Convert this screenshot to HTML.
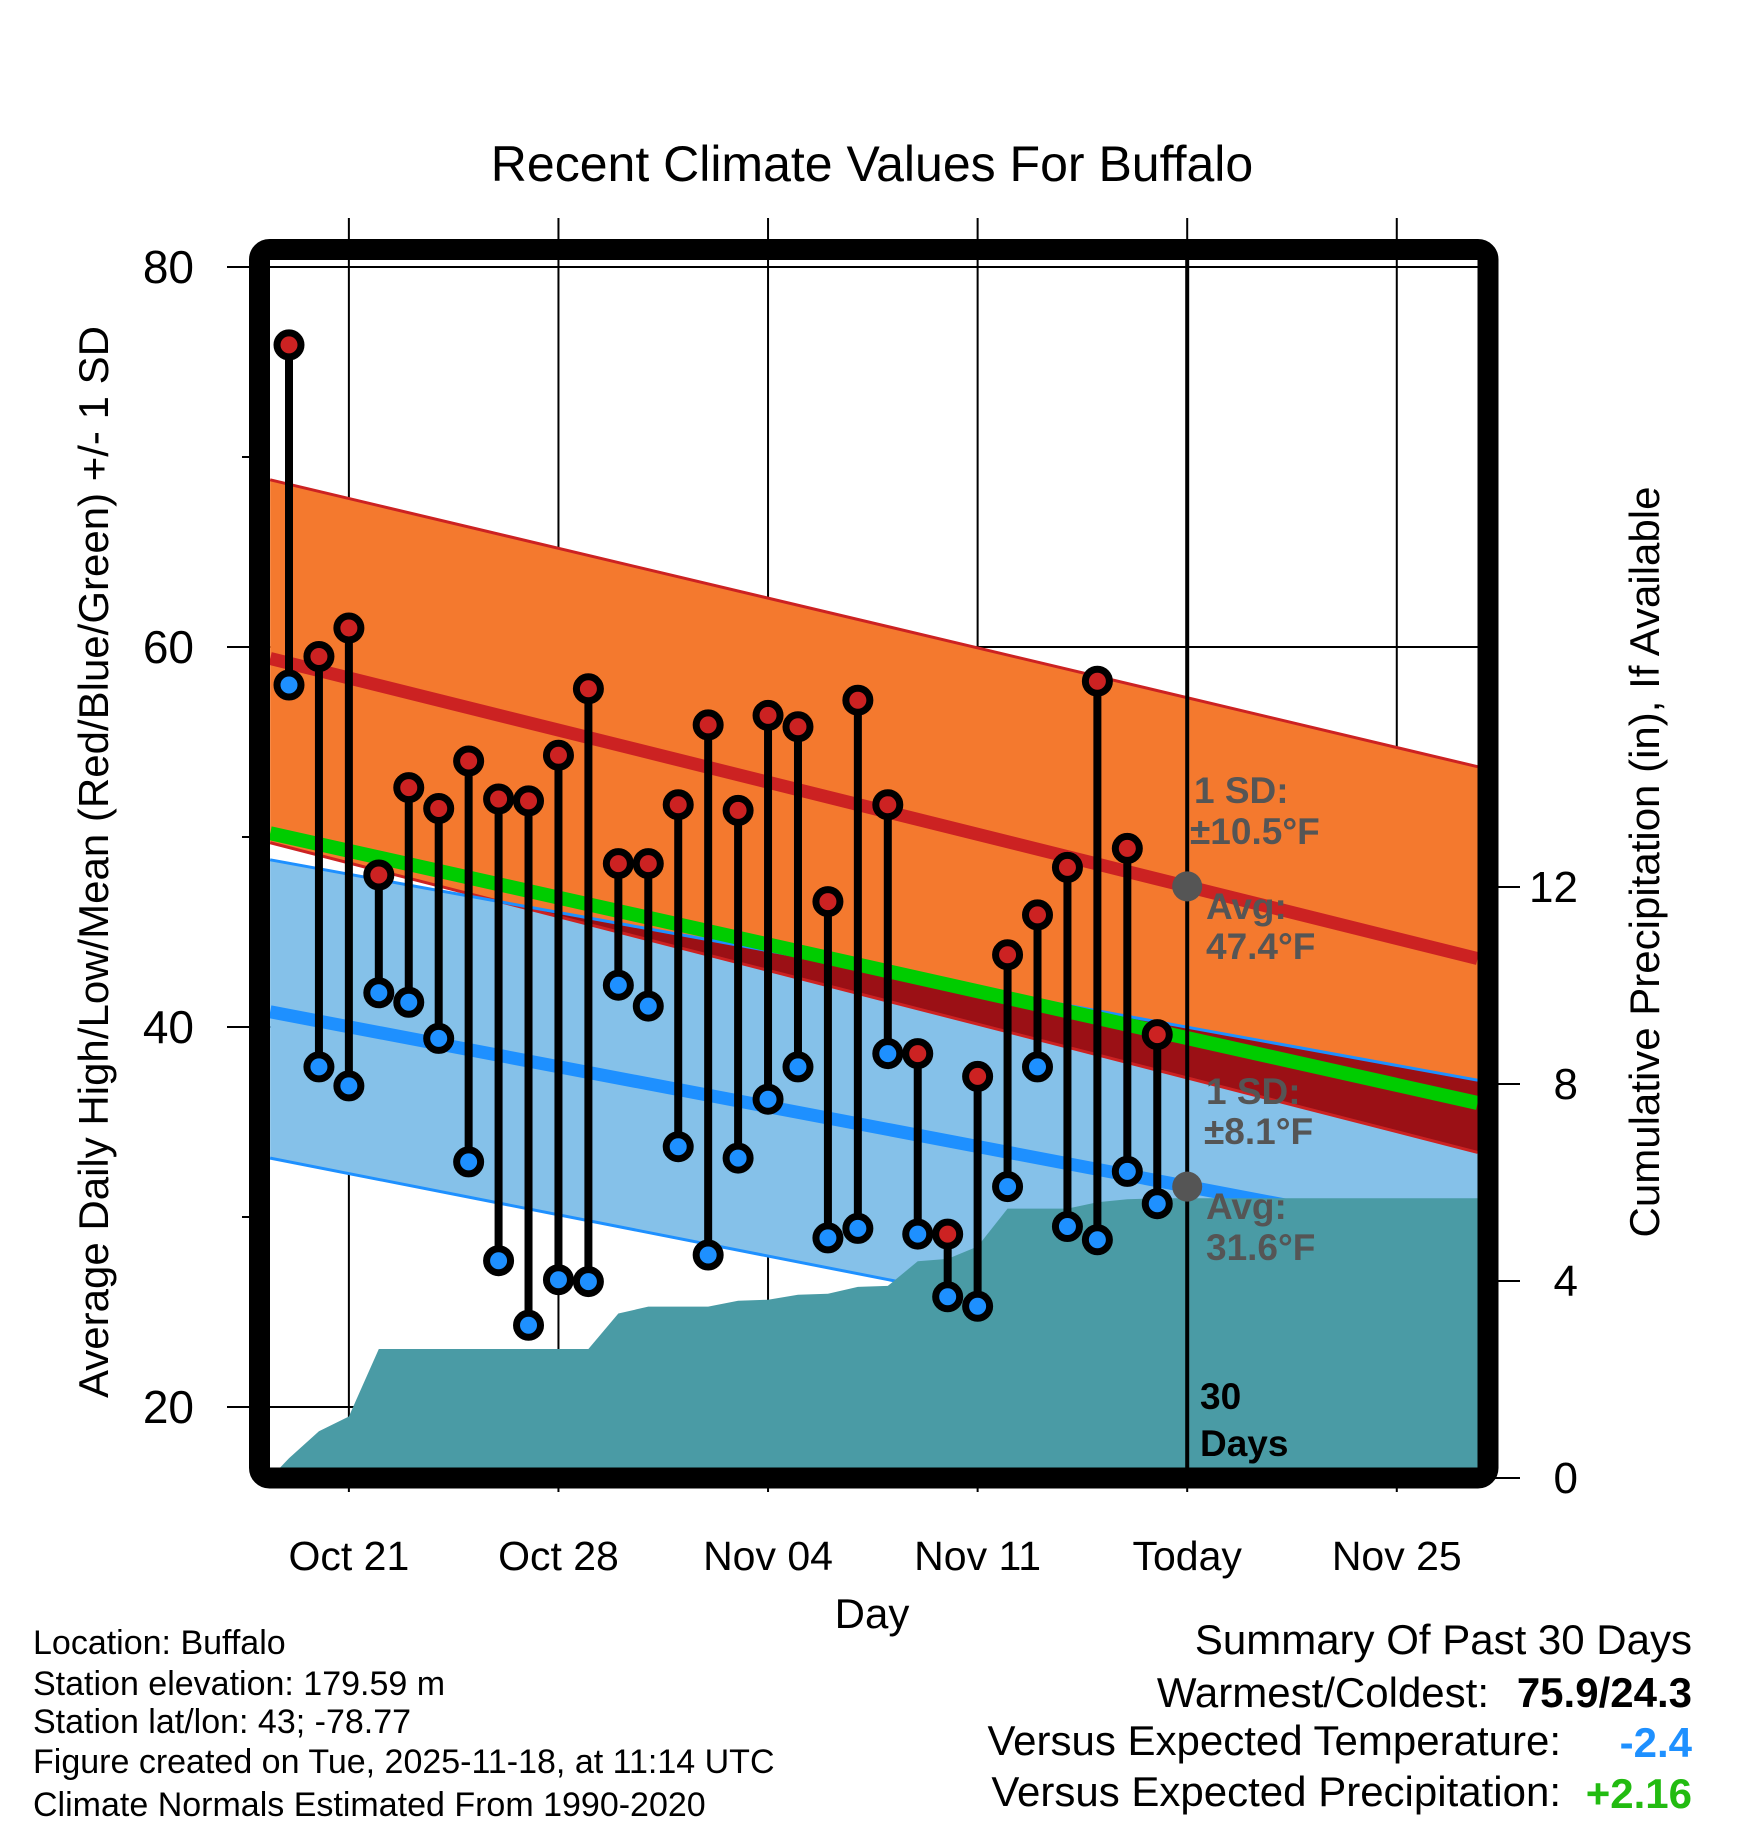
<!DOCTYPE html>
<html><head><meta charset="utf-8"><style>
html,body{margin:0;padding:0;background:#fff;}
svg{display:block;font-family:"Liberation Sans",Arial,sans-serif;}
</style></head><body>
<svg id="chart" width="1748" height="1828" viewBox="0 0 1748 1828" xmlns="http://www.w3.org/2000/svg">
<defs><clipPath id="plotclip"><rect x="270" y="260" width="1208" height="1208"/></clipPath></defs>
<text x="872" y="181" font-size="50" text-anchor="middle">Recent Climate Values For Buffalo</text>
<g id="grid"></g>
<g id="plot" clip-path="url(#plotclip)"></g>
<g id="over"></g>
<rect x="259.5" y="249.5" width="1228.5" height="1228.5" rx="10" fill="none" stroke="#000" stroke-width="21"/>
<g id="axes"></g>
<text transform="translate(108,862) rotate(-90)" font-size="42" text-anchor="middle">Average Daily High/Low/Mean (Red/Blue/Green) +/- 1 SD</text>
<text transform="translate(1659,862) rotate(-90)" font-size="42" text-anchor="middle">Cumulative Precipitation (in), If Available</text>
<text x="872" y="1628" font-size="42" text-anchor="middle">Day</text>
<g font-size="34">
<text x="33" y="1654">Location: Buffalo</text>
<text x="33" y="1695">Station elevation: 179.59 m</text>
<text x="33" y="1733">Station lat/lon: 43; -78.77</text>
<text x="33" y="1773">Figure created on Tue, 2025-11-18, at 11:14 UTC</text>
<text x="33" y="1816">Climate Normals Estimated From 1990-2020</text>
</g>
<g font-size="42">
<text x="1692" y="1654" text-anchor="end">Summary Of Past 30 Days</text>
<text x="1489" y="1707" text-anchor="end">Warmest/Coldest:</text>
<text x="1692" y="1707" text-anchor="end" font-weight="bold">75.9/24.3</text>
<text x="1561" y="1755" text-anchor="end">Versus Expected Temperature:</text>
<text x="1692" y="1757" text-anchor="end" font-weight="bold" fill="#1e90ff">-2.4</text>
<text x="1561" y="1806" text-anchor="end">Versus Expected Precipitation:</text>
<text x="1692" y="1808" text-anchor="end" font-weight="bold" fill="#22bb11">+2.16</text>
</g>
</svg>
<script>
const highs=[75.9,59.5,61.0,48.0,52.6,51.5,54.0,52.0,51.9,54.3,57.8,48.6,48.6,51.7,55.9,51.4,56.4,55.8,46.6,57.2,51.7,38.6,29.1,37.4,43.8,45.9,48.4,58.2,49.4,39.6];
const lows=[58.0,37.9,36.9,41.8,41.3,39.4,32.9,27.7,24.3,26.7,26.6,42.2,41.1,33.7,28.0,33.1,36.2,37.9,28.9,29.4,38.6,29.1,25.8,25.3,31.6,37.9,29.5,28.8,32.4,30.7];
const precip=[0.4,0.95,1.25,2.62,2.62,2.62,2.62,2.62,2.62,2.62,2.62,3.34,3.48,3.48,3.48,3.6,3.62,3.72,3.74,3.88,3.9,4.4,4.45,4.7,5.47,5.47,5.47,5.6,5.66,5.68];
const normalDays=[-0.63,39.7];
const highUpper=[68.8,53.7];
const highMean=[59.4,43.6];
const highLower=[49.7,33.4];
const avgMean=[50.2,36.0];
const lowUpper=[48.8,37.2];
const lowMean=[40.8,28.7];
const lowLower=[33.1,20.6];
const xTickDays=[2,9,16,23,30,37];
const xTickLabels=["Oct 21","Oct 28","Nov 04","Nov 11","Today","Nov 25"];
const yTicks=[80,60,40,20];
const yMinor=[70,50,30];
const pTicks=[0,4,8,12];
const todayDay=30;
const todayHighAvg=47.4, todayLowAvg=31.6;

const NS="http://www.w3.org/2000/svg";
const X=d=>289+d*29.94;
const Y=t=>267+(80-t)*19;
const P=p=>1478-p*49.25;
function mk(parent,tag,attrs){const e=document.createElementNS(NS,tag);for(const k in attrs)e.setAttribute(k,attrs[k]);parent.appendChild(e);return e;}
const grid=document.getElementById('grid'),plot=document.getElementById('plot'),over=document.getElementById('over'),axes=document.getElementById('axes');

xTickDays.forEach((d,i)=>{
  const l=mk(grid,'line',{x1:X(d),x2:X(d),y1:218,y2:1492,stroke:'#000','stroke-width':2});
  
  
  const t=mk(axes,'text',{x:X(d),y:1570,'font-size':41,'text-anchor':'middle'});
  t.textContent=xTickLabels[i];
  
  
});
yTicks.forEach(v=>{
  const l=mk(grid,'line',{x1:227,x2:1478,y1:Y(v),y2:Y(v),stroke:'#000','stroke-width':2});
  
  
  const t=mk(axes,'text',{x:194,y:Y(v)+16,'font-size':46,'text-anchor':'end'});
  t.textContent=v;
  
  
});
yMinor.forEach(v=>{
  const l=mk(grid,'line',{x1:242,x2:252,y1:Y(v),y2:Y(v),stroke:'#000','stroke-width':2});
  
  
});
pTicks.forEach(v=>{
  const l=mk(grid,'line',{x1:1490,x2:1520,y1:P(v),y2:P(v),stroke:'#000','stroke-width':2});
  
  
  const t=mk(axes,'text',{x:1578,y:P(v)+15,'font-size':44,'text-anchor':'end'});
  t.textContent=v;
  
  
});

function band(up,lo){const a=normalDays;return `${X(a[0])},${Y(up[0])} ${X(a[1])},${Y(up[1])} ${X(a[1])},${Y(lo[1])} ${X(a[0])},${Y(lo[0])}`;}
function line(v){return {x1:X(normalDays[0]),y1:Y(v[0]),x2:X(normalDays[1]),y2:Y(v[1])};}

let e=mk(plot,'polygon',{points:band(lowUpper,lowLower),fill:'#85c1e9'});


e=mk(plot,'polygon',{points:band(highUpper,highLower),fill:'#f4792e'});


{const d0=lowUpper[0]-highLower[0],d1=lowUpper[1]-highLower[1];
 const f=d0>=0?0:(-d0)/(d1-d0);
 const dc=normalDays[0]+f*(normalDays[1]-normalDays[0]);
 const uc=lowUpper[0]+f*(lowUpper[1]-lowUpper[0]);
 const pts=`${X(dc)},${Y(uc)} ${X(normalDays[1])},${Y(lowUpper[1])} ${X(normalDays[1])},${Y(highLower[1])}`;
 e=mk(plot,'polygon',{points:pts,fill:'#9b1015'});
 
 }
e=mk(plot,'line',Object.assign(line(highUpper),{stroke:'#cc2222','stroke-width':3}));


e=mk(plot,'line',Object.assign(line(highLower),{stroke:'#cc2222','stroke-width':3}));


e=mk(plot,'line',Object.assign(line(lowUpper),{stroke:'#1e90ff','stroke-width':3}));


e=mk(plot,'line',Object.assign(line(lowLower),{stroke:'#1e90ff','stroke-width':3}));


e=mk(plot,'line',Object.assign(line(highMean),{stroke:'#cc2222','stroke-width':13}));


e=mk(plot,'line',Object.assign(line(lowMean),{stroke:'#1e90ff','stroke-width':13}));


e=mk(plot,'line',Object.assign(line(avgMean),{stroke:'#00cc00','stroke-width':14}));



{let pts=`${X(normalDays[0])},${P(0)} `;
 precip.forEach((p,i)=>{pts+=`${X(i)},${P(p)} `;});
 pts+=`${X(normalDays[1])},${P(precip[precip.length-1])} ${X(normalDays[1])},${P(0)}`;
 e=mk(plot,'polygon',{points:pts,fill:'#4a9ba5'});
 
 }

e=mk(over,'line',{x1:X(todayDay),x2:X(todayDay),y1:255,y2:1470,stroke:'#000','stroke-width':4});



highs.forEach((h,i)=>{
  const s=mk(over,'line',{x1:X(i),x2:X(i),y1:Y(h),y2:Y(lows[i]),stroke:'#000','stroke-width':8});
  
  
  [[h,'#cc2222','high-marker'],[lows[i],'#1e90ff','low-marker']].forEach(([v,c,n])=>{
    const m=mk(over,'circle',{cx:X(i),cy:Y(v),r:12,fill:c,stroke:'#000','stroke-width':7});
    
    
  });
});

[todayHighAvg,todayLowAvg].forEach(v=>{
  const c=mk(over,'circle',{cx:X(todayDay),cy:Y(v),r:15,fill:'#555'});
  
  
});

function lbl(x,y,txt,fill,name){const t=mk(over,'text',{x:x,y:y,'font-size':37,'font-weight':'bold',fill:fill});t.textContent=txt;}
lbl(1194,803,'1 SD:','#555','high-sd-label');
lbl(1190,844,'±10.5°F','#555','high-sd-value');
lbl(1206,919,'Avg:','#555','high-avg-label');
lbl(1206,959,'47.4°F','#555','high-avg-value');
lbl(1206,1104,'1 SD:','#555','low-sd-label');
lbl(1204,1144,'±8.1°F','#555','low-sd-value');
lbl(1206,1219,'Avg:','#555','low-avg-label');
lbl(1206,1260,'31.6°F','#555','low-avg-value');
lbl(1200,1409,'30','#000','days-count');
lbl(1200,1456,'Days','#000','days-label');
</script>
</body></html>
